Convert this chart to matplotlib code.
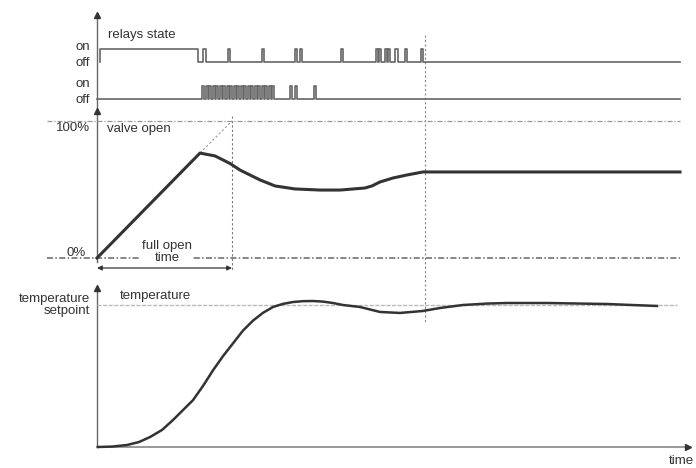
import matplotlib
matplotlib.use('Agg')
import matplotlib.pyplot as plt

plt.rcParams['font.family'] = ['Liberation Sans', 'DejaVu Sans']

# time axis: 0 .. 583 (arbitrary units)
t_end = 583

# relay 1 on-intervals
relay1_on = [(3, 101), (106, 109), (131, 133), (165, 167), (198, 200), (203, 205),
             (244, 246), (279, 281), (282, 284), (288, 290), (291, 293),
             (298, 301), (308, 310), (324, 326)]
# relay 2 on-intervals
relay2_starts = [105, 108.5, 112, 115.5, 119, 122.5, 126, 129.5, 133, 136.5, 140,
                 143.5, 147, 150.5, 154, 157.5, 161, 164.5, 168, 171.5, 175]
relay2_on = [(s, s + 2) for s in relay2_starts] + [(193, 195), (198, 200), (217, 219)]

# valve opening (%)
valve_t = [0, 103, 118, 133, 143, 163, 178, 198, 223, 243, 268, 275, 283, 296, 310, 326, 583]
valve_v = [0, 76.6, 74.5, 69.0, 64.2, 57.0, 52.6, 50.4, 49.6, 49.6, 51.1, 52.6, 55.5, 58.4, 60.6, 62.8, 62.8]
full_open_time = 135

# temperature (relative to setpoint)
temp_t = [1, 15, 30, 42, 53, 65, 76, 86, 96, 106, 116, 126, 136, 146, 156, 166, 176,
          186, 196, 206, 216, 226, 236, 246, 263, 283, 303, 326, 343, 366, 390,
          410, 450, 510, 560]
temp_v = [0, 0.003, 0.014, 0.035, 0.07, 0.12, 0.19, 0.26, 0.33, 0.43, 0.54, 0.64,
          0.73, 0.82, 0.89, 0.945, 0.986, 1.008, 1.021, 1.027, 1.028, 1.024, 1.014,
          1.0, 0.986, 0.951, 0.944, 0.958, 0.979, 1.0, 1.01, 1.014, 1.014, 1.007, 0.993]
setpoint = 1.0

W, H = 696, 468
fig = plt.figure(figsize=(W / 100, H / 100), dpi=100)

XL = (-97, W - 97)
dark = '#333333'
grey = '#666666'
fs = 9.5


def panel(top_px, bot_px, v_top, v_bot):
    a = fig.add_axes([0, 1 - bot_px / H, 1, (bot_px - top_px) / H])
    a.set_xlim(*XL)
    a.set_ylim(v_bot, v_top)
    a.axis('off')
    a.patch.set_alpha(0)
    return a


# overlay for the frame (pixel-like units)
ax0 = fig.add_axes([0, 0, 1, 1])
ax0.set_xlim(*XL)
ax0.set_ylim(H, 0)
ax0.axis('off')

ax0.plot([0, 0], [15, 262], color=grey, lw=1)
ax0.plot([0, 0], [288, 447], color=grey, lw=1)
ax0.plot([0, 591], [447, 447], color='#888888', lw=1.2)
ax0.plot([0], [15], marker='^', ms=4, color=dark)
ax0.plot([0], [111], marker='^', ms=4, color=dark)
ax0.plot([0], [288], marker='^', ms=4, color=dark)
ax0.plot([591], [447], marker='>', ms=4, color=dark)
ax0.plot([328, 328], [35, 322], color='#888888', lw=0.8, dashes=(2, 2))
ax0.text(597, 461, 'time', fontsize=fs, color=dark, ha='right', va='center')

# relays
axr = panel(0, 115, 99 / 13.5, -16 / 13.5)
r1_off = 37 / 13.5


def steps(intervals, base, start):
    xs, ys = [start], [base]
    for a, b in intervals:
        xs += [a, a, b, b]
        ys += [base, base + 1, base + 1, base]
    xs.append(t_end)
    ys.append(base)
    return xs, ys


x1, y1 = steps(relay1_on, r1_off, 3)
x2, y2 = steps(relay2_on, 0, 0)
axr.plot(x1, y1, color=grey, lw=1.2)
axr.plot(x2, y2, color=grey, lw=1.2)
axr.text(-7, r1_off + 1.1, 'on', fontsize=fs, ha='right', va='center', color=dark)
axr.text(-7, r1_off - 0.05, 'off', fontsize=fs, ha='right', va='center', color=dark)
axr.text(-7, 1.1, 'on', fontsize=fs, ha='right', va='center', color=dark)
axr.text(-7, -0.05, 'off', fontsize=fs, ha='right', va='center', color=dark)
axr.text(11, r1_off + 2.0, 'relays state', fontsize=fs, ha='left', va='center', color=dark)

# valve
axv = panel(115, 280, (258 - 115) / 1.37, -22 / 1.37)
axv.plot([-50, t_end], [100, 100], color='#999999', lw=0.9, dashes=(4, 1.5, 1, 1.5))
axv.plot([-50, t_end], [0, 0], color=grey, lw=1.1, dashes=(4, 1.5, 1, 1.5))
axv.plot(valve_t, valve_v, color=dark, lw=2.2, zorder=5)
axv.plot([valve_t[1], full_open_time], [valve_v[1], 100], color='#999999', lw=0.8, dashes=(2, 2))
axv.plot([full_open_time, full_open_time], [104, -9], color='#777777', lw=0.8, dashes=(2, 2))
axv.annotate('', xy=(full_open_time, -7.3), xytext=(0, -7.3),
             arrowprops=dict(arrowstyle='<|-|>', color=dark, lw=0.9,
                             mutation_scale=7, shrinkA=0, shrinkB=0))
axv.text(-7, 95, '100%', fontsize=fs, ha='right', va='center', color=dark)
axv.text(-11, 3.5, '0%', fontsize=fs, ha='right', va='center', color=dark)
axv.text(10, 94, 'valve open', fontsize=fs, ha='left', va='center', color=dark)
axv.text(70, 4.5, 'full open\ntime', fontsize=fs, ha='center', va='center', color=dark,
         linespacing=0.95, zorder=6,
         bbox=dict(facecolor='white', edgecolor='none', pad=0.5))

# temperature
axt = panel(280, 468, 167 / 142, -21 / 142)
axt.plot([0, 580], [setpoint, setpoint], color='#bbbbbb', lw=1.0, dashes=(3, 1))
axt.plot(temp_t, temp_v, color=dark, lw=1.8)
axt.text(23, 1.06, 'temperature', fontsize=fs, ha='left', va='center', color=dark)
axt.text(-7, 1.0, 'temperature\nsetpoint', fontsize=fs, ha='right', va='center',
         color=dark, linespacing=0.95)

fig.savefig('out.png', dpi=100)
